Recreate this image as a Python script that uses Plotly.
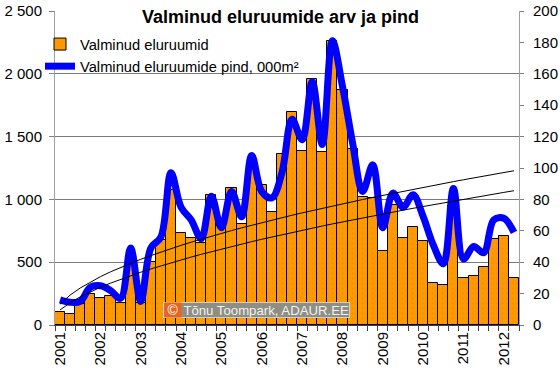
import numpy as np
import plotly.graph_objects as go

years = [str(y) for y in range(2001, 2013)]
quarter_idx = list(range(46))  # 2001Q1 .. 2012Q2

valminud = [100, 88, 165, 247, 216, 234, 176, 492, 173, 500,
            680, 1075, 730, 690, 650, 1035, 790, 1093, 806, 1250,
            1115, 897, 1363, 1697, 1383, 1960, 1380, 2261, 1868, 1402,
            1020, 1014, 593, 955, 692, 778, 670, 335, 322, 950,
            375, 388, 465, 685, 708, 378]

pind = [16, 14.5, 15, 24, 25, 22, 17, 49, 15, 49,
        56, 97, 75, 67, 55, 82, 62, 85, 69, 108,
        85, 81, 97, 131, 118, 155, 115, 181, 152, 116,
        85, 102, 62, 84, 75, 83, 69, 51, 39, 87,
        42, 50, 46, 67, 68, 59]

left_ticks = [0, 500, 1000, 1500, 2000, 2500]
left_ticktext = ["0", "500", "1 000", "1 500", "2 000", "2 500"]


def power_trend(vals):
    xs = np.arange(1, len(vals) + 1)
    b, a = np.polyfit(np.log(xs), np.log(vals), 1)
    return list(np.exp(a) * xs ** b)


fig = go.Figure()
fig.add_trace(go.Bar(
    x=quarter_idx, y=valminud, name="Valminud eluruumid", width=1,
    marker=dict(color="#FF9900", line=dict(color="black", width=1),
                pattern=dict(shape=".", fgcolor="#DD8400", size=5, solidity=0.12)),
))
fig.add_trace(go.Scatter(
    x=quarter_idx, y=pind, yaxis="y2", mode="lines",
    name="Valminud eluruumide pind, 000m²",
    line=dict(color="#0000FF", width=7, shape="spline", smoothing=1),
))
fig.add_trace(go.Scatter(
    x=quarter_idx, y=power_trend(pind), yaxis="y2", mode="lines",
    showlegend=False, line=dict(color="black", width=1),
))
fig.add_trace(go.Scatter(
    x=quarter_idx, y=power_trend(valminud), yaxis="y3", mode="lines",
    showlegend=False, line=dict(color="black", width=1),
))

font = "Liberation Sans, Arial, sans-serif"
W, H = 560, 368
# plot area in pixels: x 55..519, y 11..325
X0, X1, Y0, Y1 = 55, 519, 11, 325
L, T = X0, Y0
R, B = W - X1, H - Y1
pw, ph = X1 - X0, Y1 - Y0


def px(x):
    return (x - X0) / pw


def py(y):
    return (Y1 - y) / ph


fig.update_layout(
    width=W, height=H,
    margin=dict(l=L, r=R, t=T, b=B, autoexpand=False),
    paper_bgcolor="white", plot_bgcolor="white",
    bargap=0,
    font=dict(family=font, size=15, color="black"),
    xaxis=dict(
        range=[-0.5, 45.5], tickmode="array",
        tickvals=[4 * i for i in range(len(years))], ticktext=years,
        tickangle=-90, ticks="", showgrid=False,
        showline=True, linecolor="#404040", linewidth=1,
        tickfont=dict(size=15),
        minor=dict(tickmode="array", tickvals=[i - 0.5 for i in range(47)],
                   ticks="outside", ticklen=5, tickcolor="#404040", showgrid=False),
    ),
    yaxis=dict(
        range=[0, 2500], tickmode="array", tickvals=left_ticks, ticktext=left_ticktext,
        showgrid=True, gridcolor="#7a7a7a", gridwidth=1,
        showline=True, linecolor="#a0a0a0", ticks="outside", ticklen=5,
        tickcolor="#808080", zeroline=False, tickfont=dict(size=15),
        ticklabelstandoff=4,
    ),
    yaxis2=dict(
        range=[0, 200], dtick=20, overlaying="y", side="right",
        showgrid=False, showline=True, linecolor="#a0a0a0", ticks="outside",
        ticklen=4, tickcolor="#808080", zeroline=False, tickfont=dict(size=15),
        ticklabelstandoff=6,
    ),
    yaxis3=dict(range=[0, 2500], overlaying="y", visible=False),
    showlegend=True,
    legend=dict(
        x=px(40), y=py(28), xanchor="left", yanchor="top",
        bgcolor="rgba(0,0,0,0)", borderwidth=0, font=dict(size=14.7),
        tracegroupgap=0, itemwidth=30,
    ),
    shapes=[
        dict(type="rect", xref="paper", yref="paper", x0=px(56), x1=px(309),
             y0=py(80), y1=py(30), fillcolor="white", line=dict(width=0),
             layer="between"),
    ],
    annotations=[
        dict(text="<b>Valminud eluruumide arv ja pind</b>", x=px(280), y=py(17),
             xref="paper", yref="paper", xanchor="center", yanchor="middle",
             showarrow=False, bgcolor="white",
             font=dict(size=18, color="black"), borderpad=1),
        dict(text="Tõnu Toompark, ADAUR.EE", x=px(162.5), y=py(310.3), xref="paper",
             yref="paper", xanchor="left", yanchor="middle", showarrow=False,
             bgcolor="#8E8E82", bordercolor="#D0D0D0", borderwidth=1, borderpad=0,
             font=dict(size=13.2, color="#F2F2F2"),
             width=185, height=14, align="right"),
        dict(text="©", x=px(163.5), y=py(310.3), xref="paper", yref="paper",
             xanchor="left", yanchor="middle", showarrow=False,
             bgcolor="#E8641A", borderpad=0, width=16, height=14,
             font=dict(size=14, color="white")),
    ],
)

fig.write_html("out.html", config={"displayModeBar": False},
               post_script="document.body.style.margin='0';")
